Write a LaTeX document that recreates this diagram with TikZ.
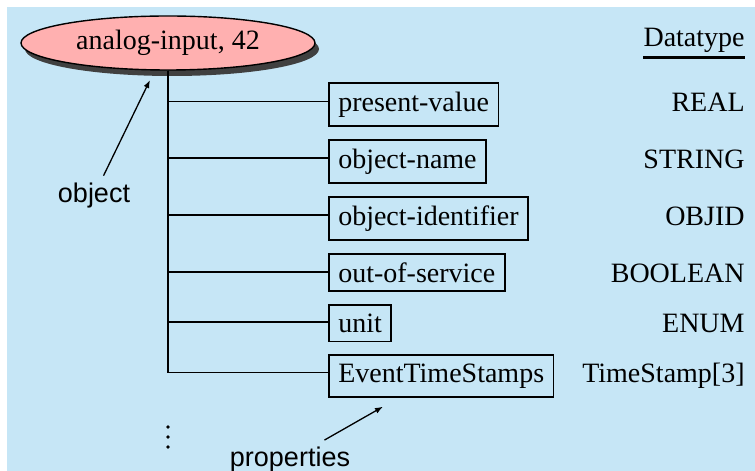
\documentclass[tikz,border=0pt]{standalone}
\usepackage{fontspec}
\setmainfont{Liberation Serif}
\setsansfont{Liberation Sans}
\definecolor{objpink}{HTML}{FFB0B0}
\definecolor{panel}{HTML}{C6E6F6}
\usetikzlibrary{positioning, shapes.geometric, arrows.meta, shadows}

\begin{document}
\begin{tikzpicture}[x=0.5pt, y=0.5pt,
  font=\fontsize{14}{17}\selectfont,
  obj/.style={ellipse, draw, line width=0.7pt, fill=objpink,
              minimum width=147pt, minimum height=27pt, inner sep=0pt,
              drop shadow={shadow xshift=2pt, shadow yshift=-3pt, fill=black!75, opacity=1}},
  prop/.style={draw, line width=0.85pt, inner xsep=4.7pt, inner ysep=4.4pt},
  dtype/.style={inner sep=0pt, anchor=base east},
  note/.style={font=\fontsize{13.5}{16}\selectfont\sffamily, anchor=base},
  pointer/.style={-{Latex[length=4pt, width=3pt]}, line width=0.65pt},
  tree/.style={line width=0.85pt}
]
\useasboundingbox (0,0) rectangle (755,471);
\fill[panel] (7,0) rectangle (755,464);

\node[obj] (obj) at (168,428) {analog-input, 42};

\node[dtype] (dt) at (745,424.3) {Datatype};
\draw[line width=1.25pt] ([yshift=-5.5pt]dt.base west) -- ([yshift=-5.5pt]dt.base east);

% property boxes, stacked and left aligned
\node[prop, anchor=north west] (pv) at (328,388.5) {present-value};
\node[prop, below=6pt of pv.south west, anchor=north west] (on) {object-name};
\node[prop, below=6pt of on.south west, anchor=north west] (oi) {object-identifier};
\node[prop, below=6pt of oi.south west, anchor=north west] (oos) {out-of-service};
\node[prop, below=6pt of oos.south west, anchor=north west] (un) {unit};
\node[prop, below=6pt of un.south west, anchor=north west] (ets) {EventTimeStamps};

% datatypes in the right column
\node[dtype] (real) at (pv.base -| dt.east) {REAL};
\node[dtype] (string) at (on.base -| dt.east) {STRING};
\node[dtype] (objid) at (oi.base -| dt.east) {OBJID};
\node[dtype] (bool) at (oos.base -| dt.east) {BOOLEAN};
\node[dtype] (enum) at (un.base -| dt.east) {ENUM};
\node[dtype] (tsarr) at (ets.base -| dt.east) {TimeStamp[3]};

% tree from the object to its properties
\foreach \p in {pv,on,oi,oos,un,ets}
  \draw[tree] (obj.south) |- ([yshift=5pt]\p.base west);

% more properties follow
\foreach \y in {24,34,44}
  \fill (168,\y) circle (0.9pt);

\node[note] (objlbl) at (94,268.7) {object};
\coordinate (objtip) at (150,391);
\draw[pointer] (objlbl) -- (objtip);

\node[note] (proplbl) at (290,4.3) {properties};
\coordinate (proptip) at (383,64.3);
\draw[pointer] (proplbl) -- (proptip);
\end{tikzpicture}
\end{document}
